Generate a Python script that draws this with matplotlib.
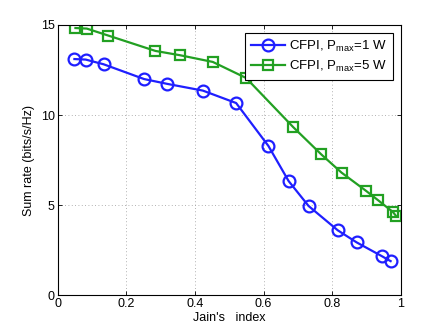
import matplotlib
matplotlib.use("Agg")
import matplotlib.pyplot as plt

# 数据
jain_1w = [0.049, 0.082, 0.134, 0.252, 0.320, 0.423, 0.520, 0.614, 0.673, 0.731, 0.816, 0.871, 0.944, 0.970]
rate_1w = [13.11, 13.08, 12.82, 12.00, 11.73, 11.36, 10.67, 8.29, 6.34, 4.96, 3.61, 2.94, 2.18, 1.90]

jain_5w = [0.052, 0.085, 0.148, 0.285, 0.357, 0.452, 0.549, 0.687, 0.768, 0.827, 0.899, 0.934, 0.977, 0.986]
rate_5w = [14.83, 14.80, 14.41, 13.56, 13.32, 12.95, 12.06, 9.32, 7.82, 6.81, 5.79, 5.27, 4.62, 4.40]

x_ticks = [0, 0.2, 0.4, 0.6, 0.8, 1]
x_ticklabels = ["0", "0.2", "0.4", "0.6", "0.8", "1"]
y_ticks = [0, 5, 10, 15]

plt.rcParams["font.family"] = ["Liberation Sans", "DejaVu Sans"]
plt.rcParams["font.size"] = 9
plt.rcParams["mathtext.fontset"] = "custom"
plt.rcParams["mathtext.rm"] = "Liberation Sans"

fig = plt.figure(figsize=(4.43, 3.33), dpi=100)
ax = fig.add_axes([0.130, 0.113, 0.775, 0.812])

ax.plot(jain_1w, rate_1w, color="#1f1fff", linewidth=1.6, marker="o",
        markersize=8.5, markerfacecolor="none", markeredgewidth=1.6,
        label=r"CFPI, P$_{\mathregular{max}}$=1 W")
ax.plot(jain_5w, rate_5w, color="#22a022", linewidth=1.6, marker="s",
        markersize=7, markerfacecolor="none", markeredgewidth=1.6,
        label=r"CFPI, P$_{\mathregular{max}}$=5 W")

ax.set_xlim(0, 1)
ax.set_ylim(0, 15)
ax.set_xticks(x_ticks)
ax.set_xticklabels(x_ticklabels)
ax.set_yticks(y_ticks)
ax.tick_params(direction="in", top=True, right=True, length=3, width=0.6, pad=2)
ax.grid(True, linestyle=(0, (1, 3)), color="#999999", linewidth=0.6)
for s in ax.spines.values():
    s.set_linewidth(0.8)

ax.set_xlabel("Jain's   index", labelpad=1)
ax.set_ylabel("Sum rate (bits/s/Hz)", labelpad=4)

leg = ax.legend(loc="upper right", fancybox=False, framealpha=1,
                edgecolor="black", borderpad=0.45, handlelength=2.6,
                handletextpad=0.3, labelspacing=0.35, borderaxespad=0.6,
                prop={"size": 9.5})
leg.get_frame().set_linewidth(0.8)

fig.savefig("out.png", dpi=100)
